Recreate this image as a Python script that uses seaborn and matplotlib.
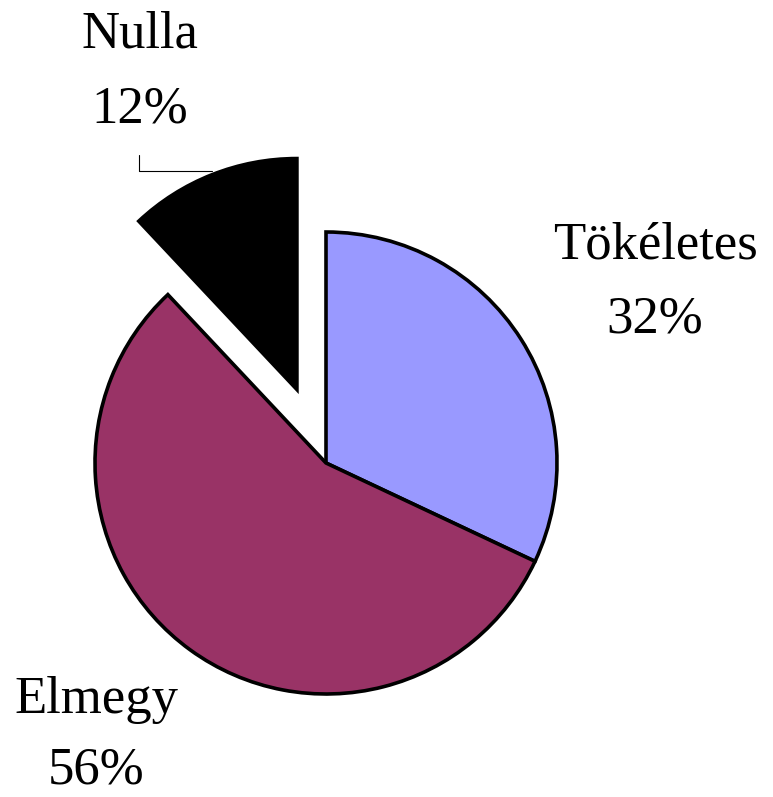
import matplotlib
matplotlib.use('Agg')
import matplotlib.pyplot as plt
import seaborn as sns

# ── data ────────────────────────────────────────────
names = ['Tökéletes', 'Elmegy', 'Nulla']
shares = [32, 56, 12]
colors = ['#9999FF', '#993366', '#000000']

sns.set_style('white')
plt.rcParams['font.family'] = ['Liberation Serif', 'DejaVu Serif']
plt.rcParams['text.color'] = 'black'

W, H = 773, 797
fig = plt.figure(figsize=(W / 100, H / 100), dpi=100)
ax = fig.add_axes([0, 0, 1, 1])

# pixel-like data units: 1 unit = 1 px
cx, cy, r = 326, H - 463, 231
ax.pie(shares, colors=colors, startangle=90, counterclock=False,
       center=(cx, cy), radius=r, explode=[0, 0, 79],
       wedgeprops=dict(edgecolor='black', linewidth=2.6))

ax.set_xlim(0, W)
ax.set_ylim(0, H)
ax.set_aspect('equal')
ax.axis('off')

# label positions (x centre, name baseline, percent baseline)
label_pos = {
    'Tökéletes': (655, 258, 332),
    'Elmegy': (96, 713, 783),
    'Nulla': (140, 47, 122),
}
for name, share in zip(names, shares):
    x, y1, y2 = label_pos[name]
    ax.text(x, H - y1, name, ha='center', va='baseline', fontsize=38, color='black')
    ax.text(x, H - y2, f'{share}%', ha='center', va='baseline', fontsize=38, color='black')

# leader line for Nulla
ax.plot([139, 139, 212], [H - 155, H - 171, H - 171], color='black', linewidth=0.8)

fig.savefig('out.png', dpi=100)
